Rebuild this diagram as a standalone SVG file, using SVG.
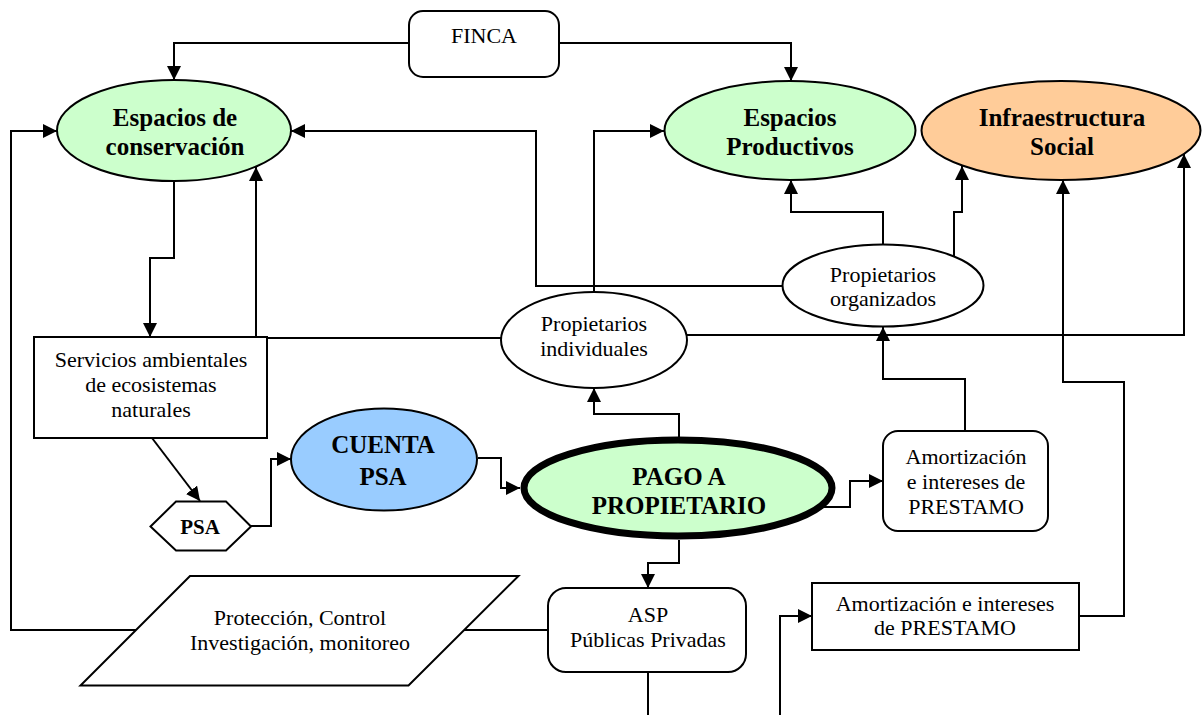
<svg xmlns="http://www.w3.org/2000/svg" width="1202" height="715" viewBox="0 0 1202 715">
<style>
.n{stroke:#000;stroke-width:2}
.c{fill:none;stroke:#000;stroke-width:2}
text{font-family:"Liberation Serif","Times New Roman",serif;fill:#000;text-anchor:middle}
.t{font-size:22px}
.b{font-size:25px;font-weight:bold}
</style>
<defs>
<marker id="a" markerUnits="userSpaceOnUse" markerWidth="15" markerHeight="15" refX="14" refY="7" orient="auto">
<path d="M0,0 L14,7 L0,14 z" fill="#000"/>
</marker>
</defs>
<rect width="1202" height="715" fill="#fff"/>
<g id="connectors">
<path class="c" d="M409,43 H174 V80" marker-end="url(#a)"/>
<path class="c" d="M559,43 H791 V81" marker-end="url(#a)"/>
<path class="c" d="M174,181 V258 H150 V337" marker-end="url(#a)"/>
<path class="c" d="M782,286 H536 V131 H291" marker-end="url(#a)"/>
<path class="c" d="M594,292 V131 H664" marker-end="url(#a)"/>
<path class="c" d="M883,244 V212 H791 V180" marker-end="url(#a)"/>
<path class="c" d="M954,256 V212 H962 V166" marker-end="url(#a)"/>
<path class="c" d="M501,338 H256 V167" marker-end="url(#a)"/>
<path class="c" d="M687,335 H1184 V154" marker-end="url(#a)"/>
<path class="c" d="M152,438 L200,501" marker-end="url(#a)"/>
<path class="c" d="M251,526 H271 V459 H291" marker-end="url(#a)"/>
<path class="c" d="M478,458 H501 V488 H520" marker-end="url(#a)"/>
<path class="c" d="M679,437 V414 H594 V388" marker-end="url(#a)"/>
<path class="c" d="M824,507 H850 V481 H883" marker-end="url(#a)"/>
<path class="c" d="M965,431 V379 H883 V327" marker-end="url(#a)"/>
<path class="c" d="M679,540 V563 H648 V588" marker-end="url(#a)"/>
<path class="c" d="M548,630 H464"/>
<path class="c" d="M136,630 H11 V131 H57" marker-end="url(#a)"/>
<path class="c" d="M648,672 V715"/>
<path class="c" d="M780,715 V616 H812" marker-end="url(#a)"/>
<path class="c" d="M1079,616 H1124 V382 H1063 V180" marker-end="url(#a)"/>
</g>
<g id="finca">
<rect class="n" x="409" y="11" width="150" height="66" rx="14" fill="#fff"/>
<text class="t" x="484" y="43">FINCA</text>
</g>
<g id="espacios-conservacion">
<ellipse class="n" cx="174" cy="130.5" rx="117" ry="50.5" fill="#CCFFCC"/>
<text class="b" x="175" y="126">Espacios de</text>
<text class="b" x="175" y="155">conservación</text>
</g>
<g id="espacios-productivos">
<ellipse class="n" cx="790" cy="130.5" rx="125.5" ry="49.5" fill="#CCFFCC"/>
<text class="b" x="790" y="126">Espacios</text>
<text class="b" x="790" y="155">Productivos</text>
</g>
<g id="infraestructura-social">
<ellipse class="n" cx="1061" cy="130.5" rx="139.5" ry="49.5" fill="#FFCC99"/>
<text class="b" x="1062" y="126">Infraestructura</text>
<text class="b" x="1062" y="155">Social</text>
</g>
<g id="propietarios-organizados">
<ellipse class="n" cx="883" cy="285.5" rx="100.5" ry="41" fill="#fff"/>
<text class="t" x="883" y="282">Propietarios</text>
<text class="t" x="883" y="306">organizados</text>
</g>
<g id="propietarios-individuales">
<ellipse class="n" cx="594" cy="340" rx="93" ry="48" fill="#fff"/>
<text class="t" x="594" y="331">Propietarios</text>
<text class="t" x="594" y="356">individuales</text>
</g>
<g id="servicios">
<rect class="n" x="34" y="337" width="233" height="101" fill="#fff"/>
<text class="t" x="151" y="367">Servicios ambientales</text>
<text class="t" x="151" y="392">de ecosistemas</text>
<text class="t" x="151" y="417">naturales</text>
</g>
<g id="psa">
<polygon class="n" points="150.5,526.5 176,501.5 226,501.5 251,526.5 226,550.5 176,550.5" fill="#fff"/>
<text class="b" x="200" y="534" style="font-size:21px">PSA</text>
</g>
<g id="cuenta-psa">
<ellipse class="n" cx="384" cy="459.5" rx="93" ry="51" fill="#99CCFF"/>
<text class="b" x="383" y="453">CUENTA</text>
<text class="b" x="383" y="485">PSA</text>
</g>
<g id="pago-propietario">
<ellipse cx="678" cy="488" rx="154" ry="48" fill="#CCFFCC" stroke="#000" stroke-width="7"/>
<text class="b" x="679" y="485">PAGO A</text>
<text class="b" x="679" y="514">PROPIETARIO</text>
</g>
<g id="amortizacion-1">
<rect class="n" x="883" y="431" width="165" height="100" rx="15" fill="#fff"/>
<text class="t" x="966" y="464">Amortización</text>
<text class="t" x="966" y="489">e intereses de</text>
<text class="t" x="966" y="514">PRESTAMO</text>
</g>
<g id="asp">
<rect class="n" x="548" y="588" width="198" height="84" rx="18" fill="#fff"/>
<text class="t" x="648" y="622">ASP</text>
<text class="t" x="648" y="647">Públicas Privadas</text>
</g>
<g id="amortizacion-2">
<rect class="n" x="812" y="583" width="267" height="67" fill="#fff"/>
<text class="t" x="945" y="611">Amortización e intereses</text>
<text class="t" x="945" y="635">de PRESTAMO</text>
</g>
<g id="proteccion">
<polygon class="n" points="190,576 518.5,576 408.5,685.5 80.5,685.5" fill="#fff"/>
<text class="t" x="300" y="625">Protección, Control</text>
<text class="t" x="300" y="650">Investigación, monitoreo</text>
</g>
</svg>
